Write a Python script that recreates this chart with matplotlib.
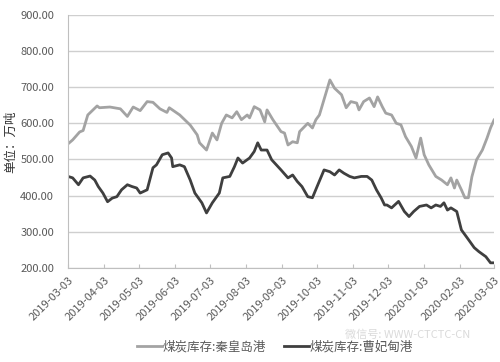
import numpy as np
import matplotlib
matplotlib.use('Agg')
import matplotlib.pyplot as plt

plt.rcParams['font.family'] = ['Noto Sans CJK SC', 'DejaVu Sans']

start = np.datetime64('2019-03-03')

# 煤炭库存:秦皇岛港 (days since 2019-03-03, 万吨)
qhd_day = [0, 4, 10, 13, 17, 25, 27, 36, 45, 51, 56, 62, 68, 73, 79, 85, 87, 96,
           105, 111, 113, 119, 124, 128, 132, 136, 141, 145, 149, 154, 156, 160,
           165, 169, 171, 176, 183, 186, 189, 193, 197, 199, 206, 210, 213, 216,
           225, 229, 235, 239, 243, 248, 250, 254, 259, 263, 266, 270, 273, 278,
           282, 286, 290, 295, 299, 303, 306, 310, 316, 321, 326, 329, 332, 334,
           338, 341, 344, 347, 351, 356, 360, 363, 366]
qhd_val = [543, 554, 576, 580, 623, 648, 643, 645, 640, 619, 645, 635, 660, 658,
           640, 630, 643, 623, 595, 568, 546, 526, 573, 554, 600, 623, 615, 632,
           610, 623, 615, 646, 637, 604, 637, 610, 577, 573, 540, 549, 546, 577,
           600, 587, 610, 623, 720, 697, 679, 643, 660, 656, 637, 660, 670, 646,
           673, 646, 628, 623, 600, 596, 563, 536, 504, 559, 513, 485, 453, 443,
           430, 449, 421, 443, 416, 394, 394, 452, 499, 526, 559, 587, 609]

# 煤炭库存:曹妃甸港
cfd_day = [0, 4, 9, 13, 19, 23, 26, 30, 34, 38, 42, 46, 51, 55, 59, 62, 68, 73,
           76, 81, 86, 89, 90, 96, 100, 105, 109, 115, 119, 124, 130, 133, 139,
           143, 146, 150, 156, 160, 163, 166, 171, 175, 179, 183, 189, 193, 197,
           201, 206, 210, 214, 220, 225, 229, 233, 237, 242, 246, 252, 257, 261,
           265, 269, 272, 274, 278, 284, 289, 293, 297, 302, 308, 312, 316, 320,
           323, 326, 329, 334, 338, 343, 349, 353, 359, 363, 366]
cfd_val = [453, 449, 430, 449, 454, 443, 425, 407, 383, 393, 397, 416, 430, 425,
           421, 407, 416, 477, 485, 513, 518, 504, 480, 485, 480, 443, 407, 380,
           352, 380, 407, 449, 453, 480, 504, 490, 504, 522, 546, 526, 526, 499,
           485, 471, 449, 457, 439, 425, 397, 394, 425, 471, 466, 457, 471, 462,
           453, 449, 453, 453, 443, 416, 394, 374, 374, 366, 384, 356, 342, 356,
           370, 374, 366, 374, 370, 380, 360, 366, 356, 305, 283, 256, 245, 231,
           214, 214]

tick_dates = ['2019-03-03', '2019-04-03', '2019-05-03', '2019-06-03', '2019-07-03',
              '2019-08-03', '2019-09-03', '2019-10-03', '2019-11-03', '2019-12-03',
              '2020-01-03', '2020-02-03', '2020-03-03']

qhd_x = start + np.array(qhd_day).astype('timedelta64[D]')
cfd_x = start + np.array(cfd_day).astype('timedelta64[D]')
ticks = np.array(tick_dates, dtype='datetime64[D]')

fig = plt.figure(figsize=(5, 3.62), dpi=100)
ax = fig.add_axes([0.136, 0.26, 0.852, 0.699])

ax.plot(qhd_x, qhd_val, color='#a3a3a3', lw=2.0, label='煤炭库存:秦皇岛港')
ax.plot(cfd_x, cfd_val, color='#3f3f3f', lw=2.0, label='煤炭库存:曹妃甸港')

ax.set_ylim(200, 900)
ax.set_yticks(range(200, 901, 100))
ax.yaxis.set_major_formatter(plt.FuncFormatter(lambda v, p: f'{v:.2f}'))
ax.set_xlim(ticks[0], ticks[-1])
ax.set_xticks(ticks)
ax.set_xticklabels(tick_dates, rotation=45, ha='right', rotation_mode='anchor')

ax.grid(axis='y', color='#cfcfcf', lw=1)
ax.set_axisbelow(True)
for s in ['top', 'right']:
    ax.spines[s].set_visible(False)
for s in ['left', 'bottom']:
    ax.spines[s].set_color('#bfbfbf')
ax.tick_params(axis='y', length=0, labelsize=8, colors='#595959', pad=10)
ax.tick_params(axis='x', direction='in', length=3, color='#bfbfbf',
               labelsize=8, labelcolor='#595959', pad=5)

ax.set_ylabel('单位：万吨', fontsize=9, color='#333333', labelpad=2)

fig.legend(loc='center', bbox_to_anchor=(0.55, 0.042), ncol=2, frameon=False,
           fontsize=9, handlelength=2, columnspacing=1.4, handletextpad=0.1,
           labelcolor='#595959')

fig.text(0.815, 0.075, '微信号: WWW-CTCTC-CN', fontsize=8, color='#dadada',
         ha='center', va='center')

fig.savefig('out.png', dpi=100)
